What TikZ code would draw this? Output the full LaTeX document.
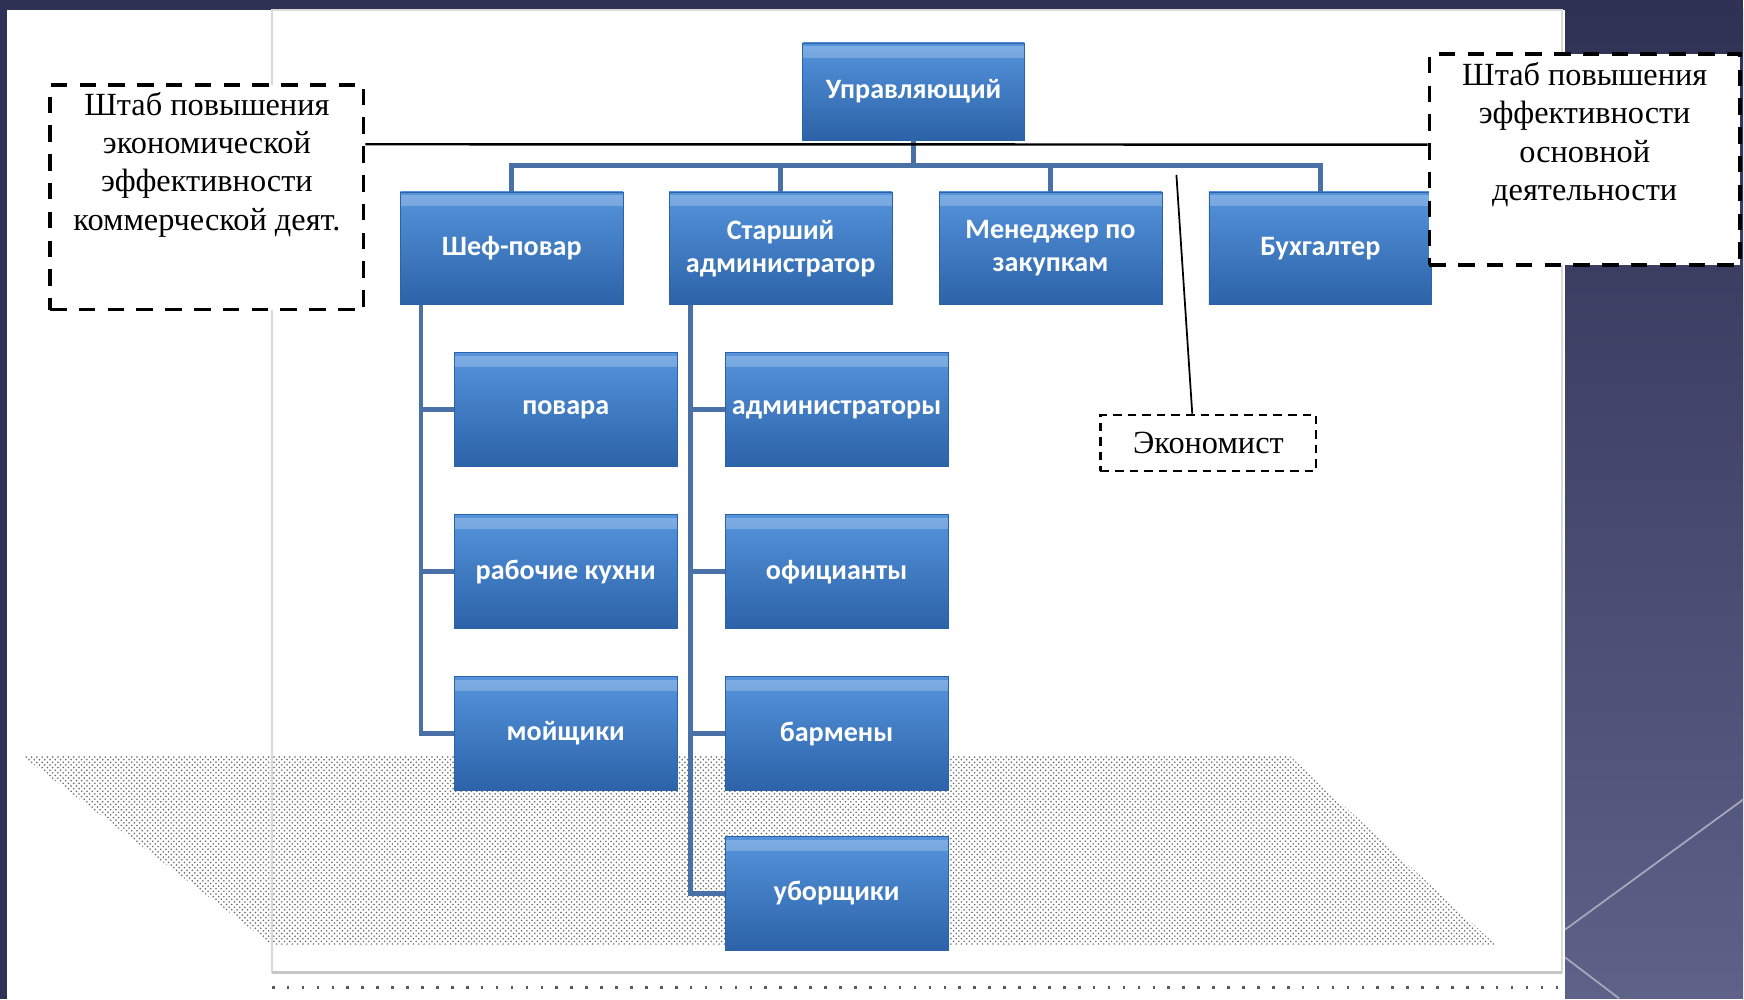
\documentclass[tikz,border=0pt]{standalone}
\usepackage{fontspec}
\setmainfont{Liberation Serif}
\newfontfamily\postfont{Carlito}
\usetikzlibrary{calc,patterns}
\definecolor{slidedark}{HTML}{2F3254}
\definecolor{slidelight}{HTML}{5E6188}
\definecolor{boxtop}{HTML}{5594DC}
\definecolor{boxbot}{HTML}{2C62A8}
\definecolor{linkblue}{HTML}{4A70A8}
\tikzset{post/.style={draw=boxbot, top color=boxtop, bottom color=boxbot, minimum width=4.46cm, minimum height=2.28cm, align=center, text=white, inner sep=1pt, font=\postfont\bfseries\fontsize{16}{19}\selectfont, path picture={\shade[top color=white, bottom color=boxtop, opacity=0.25] ([yshift=-2pt]path picture bounding box.north west) rectangle ([yshift=-8pt]path picture bounding box.north east);}}}
\tikzset{link/.style={draw=linkblue, line width=2.8pt}}
\tikzset{staffbox/.style={draw=black, fill=white, line width=1.9pt, dash pattern=on 9.4pt off 7pt}}
\tikzset{stafftext/.style={align=center, inner sep=0pt, font=\fontsize{18.4}{21.7}\selectfont}}

\begin{document}
\begin{tikzpicture}[x=0.02cm,y=-0.02cm]
      % slide background
      \fill[slidedark] (0,0) rectangle (1744,999);
      \fill[white] (7,10) rectangle (1566,999);
      \shade[top color=slidedark, bottom color=slidelight] (1566,10) rectangle (1744,999);
      \draw[white!45!slidelight, line width=1pt] (1566,930) -- (1744,800);
      \draw[white!45!slidelight, line width=1pt] (1566,958) -- (1620,999);
      \fill[pattern=crosshatch dots, pattern color=black!60] (22,756) -- (1290,756) -- (1496,945) -- (272,945) -- cycle;
      \draw[gray!30, line width=1pt] (272,10) -- (272,973) -- (1563,973) -- (1563,10) -- cycle;
      \draw[gray!45, line width=2pt] (272,973) -- (1563,973);
      \draw[black!65, line width=1.5pt, dash pattern=on 1.5pt off 7pt] (272,988) -- (1560,988);
      % chart
      \node[post, minimum width=4.44cm, minimum height=1.94cm] (boss) at (914,91.5) {Управляющий};
      \node[post, minimum height=2.26cm] (chef) at (512,248.5) {Шеф-повар};
      \node[post, minimum height=2.26cm] (senior) at (781,248.5) {Старший\\администратор};
      \node[post, minimum height=2.26cm] (buyer) at (1051,248.5) {Менеджер по\\закупкам};
      \node[post, minimum height=2.26cm] (account) at (1321,248.5) {Бухгалтер};
      \node[post] (cooks) at (566,410) {повара};
      \node[post] (kitchen) at (566,572) {рабочие кухни};
      \node[post] (washers) at (566,734) {мойщики};
      \node[post] (admins) at (837,410) {администраторы};
      \node[post] (waiters) at (837,572) {официанты};
      \node[post] (barmen) at (837,734) {бармены};
      \node[post] (cleaners) at (837,894) {уборщики};
      \foreach \n in {chef,senior,buyer,account}
        \draw[link] (boss.south) |- ($(\n.north)+(0,-26)$) -- (\n.north);
      \foreach \n in {cooks,kitchen,washers}
        \draw[link] ($(chef.south west)+(21,0)$) |- (\n.west);
      \foreach \n in {admins,waiters,barmen,cleaners}
        \draw[link] ($(senior.south west)+(22,0)$) |- (\n.west);
      % staff boxes
      \node[staffbox, minimum width=6.28cm, minimum height=4.5cm] (lstaff) at (207,197.5) {};
      \node[stafftext, anchor=north] (ltext) at ($(lstaff.north)+(0,9)$) {Штаб повышения\\экономической\\эффективности\\коммерческой деят.};
      \node[staffbox, minimum width=6.22cm, minimum height=4.22cm] (rstaff) at (1585.5,159.5) {};
      \node[stafftext, anchor=north] (rtext) at ($(rstaff.north)+(0,10)$) {Штаб повышения\\эффективности\\основной\\деятельности};
      \node[draw=black, fill=white, line width=1.2pt, dash pattern=on 4.9pt off 3.4pt, minimum width=4.32cm, minimum height=1.12cm, font=\fontsize{18.4}{21.7}\selectfont] (eco) at (1209,443) {Экономист};
      \coordinate (ecofoot) at (1177,175);
      \draw[black, line width=1.4pt] ($(lstaff.north east)!0.267!(lstaff.south east)$) -- ($(rstaff.north west)!0.431!(rstaff.south west)$);
      \draw[black, line width=1pt] (ecofoot) -- ($(eco.north west)!0.426!(eco.north east)$);
    \end{tikzpicture}
\end{document}
